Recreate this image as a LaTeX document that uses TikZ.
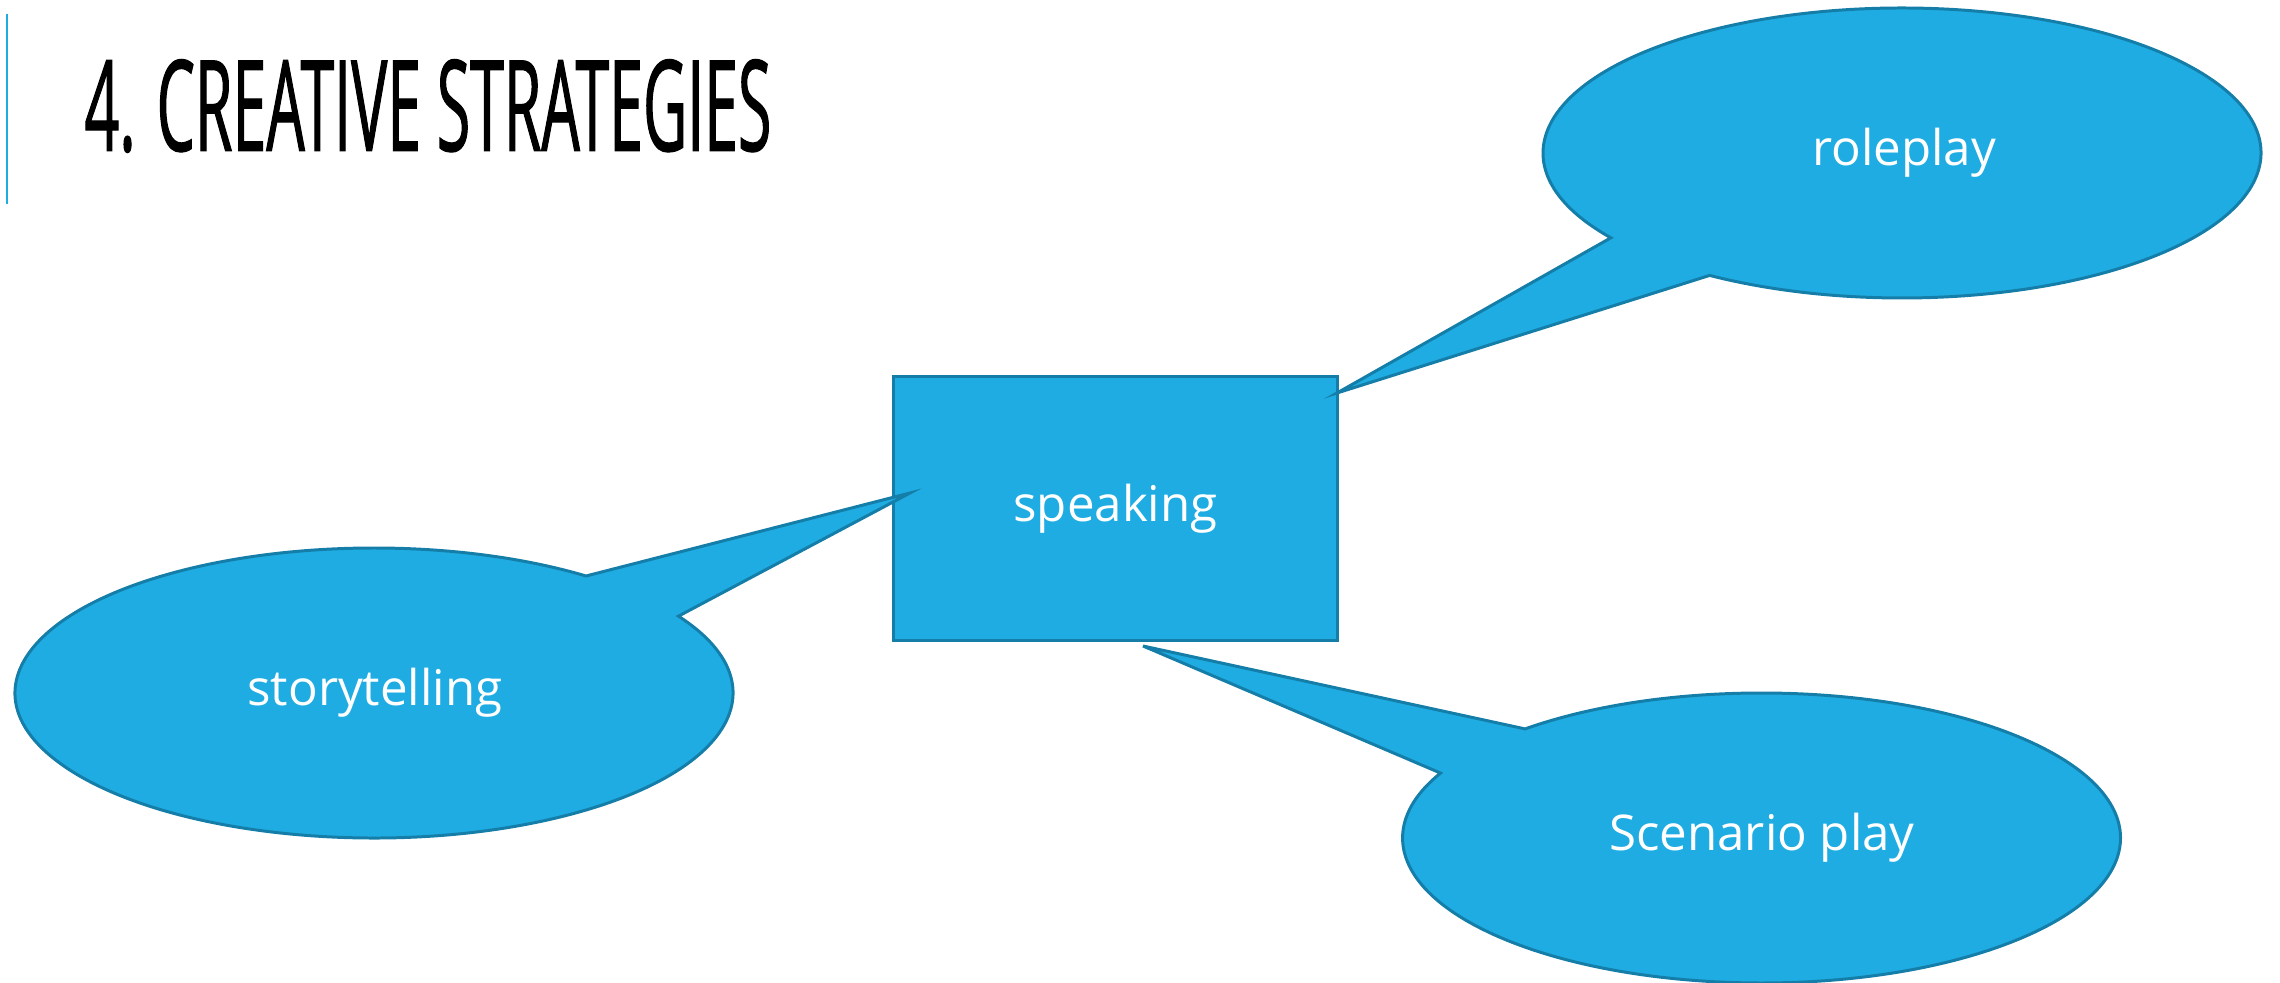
\documentclass[tikz,border=0pt]{standalone}
\usepackage{fontspec}
\setmainfont{Open Sans}
\newfontfamily\titlefont[FakeStretch=0.48,FakeBold=0.8]{Open Sans}
\definecolor{bubblefill}{RGB}{30,172,226}
\definecolor{bubbleline}{RGB}{21,126,168}
\begin{document}
\begin{tikzpicture}[x=0.01cm,y=-0.01cm]
\tikzstyle{bubble}=[fill=bubblefill,draw=bubbleline,line width=0.85pt]
\tikzstyle{bubbletext}=[text=white,font=\fontsize{14}{16}\selectfont]
\useasboundingbox (0,0) rectangle (2280,983);
\draw[bubblefill,line width=0.85pt] (7,14) -- (7,204);
\node[anchor=west,inner sep=0pt,font=\titlefont\fontsize{36}{40}\selectfont] (title) at (84,106) {4. CREATIVE STRATEGIES};
\node[bubble,bubbletext,rectangle,minimum width=4.43cm,minimum height=2.63cm] (speaking) at (1115.5,508.5) {speaking};
\coordinate (tipR) at (1337,393);
\coordinate (tipS) at (910,493);
\coordinate (tipP) at (1143,646);
\filldraw[bubble,shift={(1902,153)}] (144.2:359 and 145)
  arc[start angle=144.2,end angle=482.4,x radius=359,y radius=145] -- (tipR) -- cycle;
\filldraw[bubble,shift={(374,693)}] (-32:359 and 145)
  arc[start angle=-32,end angle=306.2,x radius=359,y radius=145] -- (tipS) -- cycle;
\filldraw[bubble,shift={(1761.5,838)}] (228.8:359 and 145)
  arc[start angle=228.8,end angle=566.6,x radius=359,y radius=145] -- (tipP) -- cycle;
\node[bubbletext] (roleplay) at (1904,153) {roleplay};
\node[bubbletext] (storytelling) at (375,693) {storytelling};
\node[bubbletext] (scenario) at (1762,838) {Scenario play};
\end{tikzpicture}
\end{document}
